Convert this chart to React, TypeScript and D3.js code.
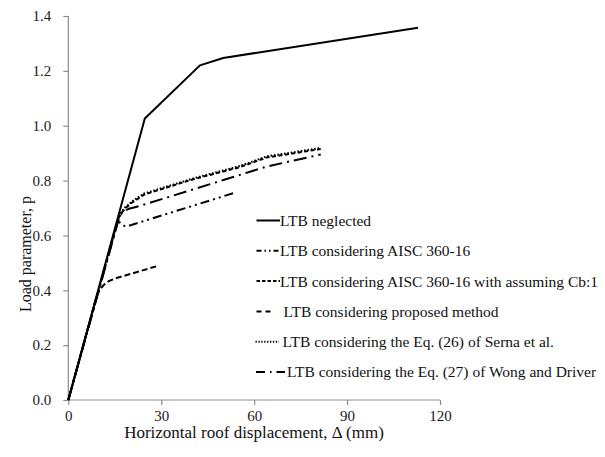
import React, { useEffect, useRef } from 'react';
import * as d3 from 'd3';

// Horizontal roof displacement (mm) and load parameter p for each curve
const neglectedX = [0, 24.7, 42.5, 50, 112.9];
const neglectedY = [0, 1.026, 1.22, 1.247, 1.357];

const aiscX = [0, 16, 17.2, 18.6, 53.8];
const aiscY = [0, 0.655, 0.64, 0.632, 0.756];

const cb1X = [0, 16.2, 17.2, 18.5, 20.5, 23, 24.5, 40.4, 55.4, 64, 81.5];
const cb1Y = [0, 0.662, 0.682, 0.7, 0.719, 0.738, 0.749, 0.805, 0.849, 0.884, 0.915];

const proposedX = [0, 9.3, 10.2, 11.5, 13, 15.1, 28.6];
const proposedY = [0, 0.385, 0.403, 0.42, 0.433, 0.443, 0.488];

const sernaX = [0, 16.2, 17.2, 18.5, 20.5, 23, 24.5, 40.4, 55.4, 64, 81.5];
const sernaY = [0, 0.665, 0.686, 0.704, 0.723, 0.742, 0.753, 0.808, 0.853, 0.888, 0.919];

const wongX = [0, 16.6, 17.8, 19.5, 21.5, 23.2, 41.5, 64, 81.5];
const wongY = [0, 0.672, 0.687, 0.697, 0.703, 0.708, 0.772, 0.851, 0.895];

const legendLabels = [
  'LTB neglected',
  'LTB considering AISC 360-16',
  'LTB considering AISC 360-16 with assuming Cb:1',
  'LTB considering proposed method',
  'LTB considering the Eq. (26) of Serna et al.',
  'LTB considering the Eq. (27) of Wong and Driver',
];

const xTicks = [0, 30, 60, 90, 120];
const yTicks = [0, 0.2, 0.4, 0.6, 0.8, 1.0, 1.2, 1.4];

const App: React.FC = () => {
  const svgRef = useRef<SVGSVGElement | null>(null);

  useEffect(() => {
    if (!svgRef.current) return;
    const svg = d3.select(svgRef.current);
    svg.selectAll('*').remove();

    const font = '"Liberation Serif", "Times New Roman", serif';
    const axisColor = '#8c8c8c';

    const x = d3.scaleLinear().domain([0, 120]).range([68.3, 440]);
    const y = d3.scaleLinear().domain([0, 1.4]).range([400, 16]);

    // y axis
    const yAxis = svg.append('g')
      .attr('transform', `translate(${x(0)},0)`)
      .call(d3.axisLeft(y).tickValues(yTicks).tickSize(5).tickPadding(12).tickFormat(d3.format('.1f')));
    // x axis
    const xAxis = svg.append('g')
      .attr('transform', `translate(0,${y(0)})`)
      .call(d3.axisBottom(x).tickValues(xTicks).tickSize(5).tickPadding(5).tickFormat(d3.format('d')));

    [yAxis, xAxis].forEach(a => {
      a.select('.domain').attr('stroke', axisColor).attr('stroke-width', 1.2);
      a.selectAll('.tick line').attr('stroke', axisColor).attr('stroke-width', 1.2);
      a.selectAll('.tick text')
        .attr('fill', '#1a1a1a')
        .style('font-family', font)
        .style('font-size', '15px');
    });
    // plain axis lines without the outer end ticks
    yAxis.select('.domain').attr('d', `M0,${y(1.4)}V${y(0)}`);
    xAxis.select('.domain').attr('d', `M${x(0)},0H${x(120)}`);

    const series = [
      { xs: neglectedX, ys: neglectedY, dash: null },
      { xs: aiscX, ys: aiscY, dash: '9,4,2,4,2,4' },
      { xs: cb1X, ys: cb1Y, dash: '4,2.5' },
      { xs: proposedX, ys: proposedY, dash: '6,3' },
      { xs: sernaX, ys: sernaY, dash: '1.6,1.8' },
      { xs: wongX, ys: wongY, dash: '13,5,2,5' },
    ];

    const line = d3.line<[number, number]>()
      .x(d => x(d[0]))
      .y(d => y(d[1]));

    series.forEach(s => {
      const pts: [number, number][] = s.xs.map((v, i) => [v, s.ys[i]]);
      svg.append('path')
        .datum(pts)
        .attr('d', line)
        .attr('fill', 'none')
        .attr('stroke', '#000')
        .attr('stroke-width', 2)
        .attr('stroke-dasharray', s.dash)
        .attr('stroke-linejoin', 'round');
    });

    // legend
    const legendKeys = [
      { x0: 256.5, x1: 280, dash: null, tx: 280 },
      { x0: 256.5, x1: 280, dash: '5,3,1.5,3,1.5,3', tx: 280 },
      { x0: 256.5, x1: 280, dash: '3.5,2', tx: 280 },
      { x0: 256.5, x1: 274, dash: '5,4', tx: 283.5 },
      { x0: 255.5, x1: 279, dash: '1.3,1.6', tx: 282.5 },
      { x0: 256, x1: 285, dash: '9,5,1.5,5', tx: 287 },
    ];
    const legendY = d3.scaleLinear().domain([0, 5]).range([220.5, 372]);

    legendLabels.forEach((label, i) => {
      const k = legendKeys[i];
      const ly = legendY(i);
      svg.append('line')
        .attr('x1', k.x0)
        .attr('x2', k.x1)
        .attr('y1', ly)
        .attr('y2', ly)
        .attr('stroke', '#000')
        .attr('stroke-width', 2)
        .attr('stroke-dasharray', k.dash);
      svg.append('text')
        .attr('x', k.tx)
        .attr('y', ly)
        .attr('dy', '0.35em')
        .style('font-family', font)
        .style('font-size', '15.5px')
        .attr('fill', '#111')
        .text(label);
    });

    // axis titles
    svg.append('text')
      .attr('x', 254)
      .attr('y', 432)
      .attr('dy', '0.35em')
      .attr('text-anchor', 'middle')
      .style('font-family', font)
      .style('font-size', '17px')
      .attr('fill', '#111')
      .text('Horizontal roof displacement, Δ (mm)');

    svg.append('text')
      .attr('transform', 'translate(25,254) rotate(-90)')
      .attr('dy', '0.35em')
      .attr('text-anchor', 'middle')
      .style('font-family', font)
      .style('font-size', '16px')
      .attr('fill', '#111')
      .text('Load parameter, p');
  }, []);

  return (
    <svg
      ref={svgRef}
      width={605}
      height={457}
      style={{ position: 'absolute', left: 0, top: 0, background: '#fff' }}
    />
  );
};

export default App;
